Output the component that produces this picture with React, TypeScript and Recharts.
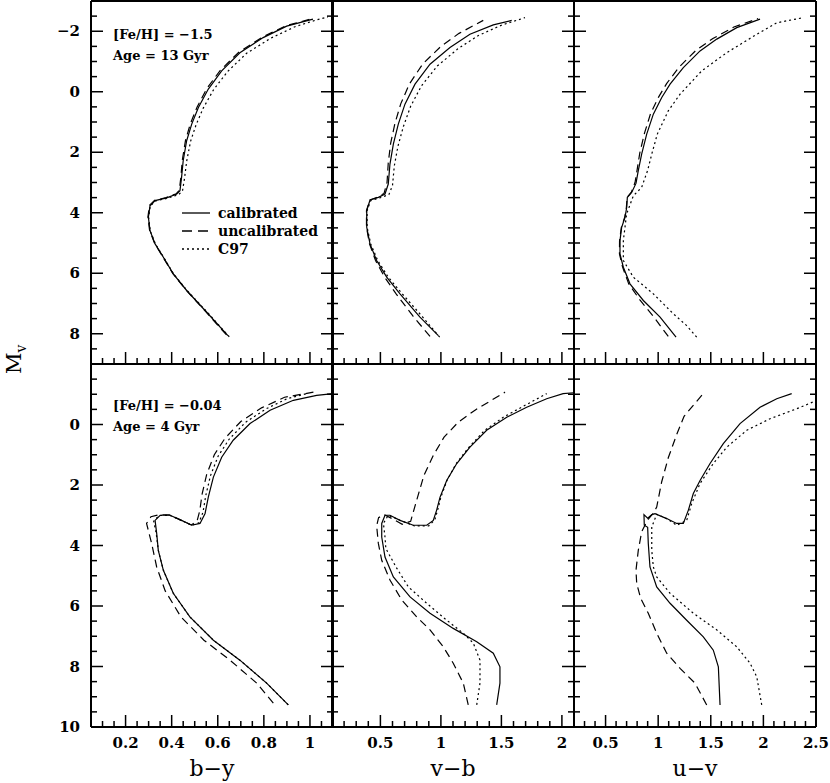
import React from "react";
import { LineChart, Line, XAxis, YAxis, Legend } from "recharts";

type Pt = [number, number]; // [colour index, Mv]

// ---- [Fe/H] = -1.5, Age = 13 Gyr ----
const topBY_cal: Pt[] = [
  [0.644, 8.06], [0.552, 7.29], [0.465, 6.57], [0.407, 6.02], [0.364, 5.47], [0.328, 5.03],
  [0.306, 4.59], [0.299, 4.15], [0.306, 3.77], [0.328, 3.6], [0.378, 3.51], [0.422, 3.38],
  [0.436, 3.27], [0.443, 2.83], [0.45, 2.28], [0.465, 1.62], [0.487, 1.07], [0.516, 0.52],
  [0.559, -0.09], [0.617, -0.69], [0.696, -1.29], [0.797, -1.79], [0.899, -2.17], [1.013, -2.4],
];
const topBY_unc: Pt[] = [
  [0.638, 8.04], [0.548, 7.27], [0.462, 6.55], [0.404, 6.0], [0.361, 5.45], [0.326, 5.01],
  [0.304, 4.57], [0.297, 4.13], [0.304, 3.75], [0.326, 3.59], [0.376, 3.5], [0.42, 3.37],
  [0.433, 3.26], [0.44, 2.82], [0.446, 2.27], [0.46, 1.61], [0.481, 1.06], [0.51, 0.51],
  [0.552, -0.1], [0.61, -0.7], [0.69, -1.3], [0.792, -1.8], [0.895, -2.18], [1.012, -2.42],
];
const topBY_c97: Pt[] = [
  [0.65, 8.1], [0.556, 7.3], [0.468, 6.58], [0.409, 6.03], [0.366, 5.48], [0.33, 5.04],
  [0.307, 4.6], [0.3, 4.16], [0.307, 3.78], [0.33, 3.61], [0.382, 3.52], [0.43, 3.4],
  [0.447, 3.28], [0.456, 2.85], [0.465, 2.3], [0.482, 1.64], [0.506, 1.09], [0.537, 0.54],
  [0.582, -0.07], [0.643, -0.67], [0.725, -1.27], [0.83, -1.77], [0.935, -2.15], [1.03, -2.38], [1.078, -2.47],
];

const topVB_cal: Pt[] = [
  [0.979, 8.06], [0.827, 7.45], [0.662, 6.68], [0.552, 6.13], [0.469, 5.58], [0.414, 5.03],
  [0.387, 4.48], [0.387, 3.93], [0.414, 3.58], [0.483, 3.49], [0.538, 3.38], [0.565, 3.05],
  [0.579, 2.39], [0.607, 1.73], [0.648, 1.07], [0.703, 0.41], [0.786, -0.25], [0.91, -0.91],
  [1.075, -1.46], [1.24, -1.9], [1.433, -2.21], [1.585, -2.36],
];
const topVB_unc: Pt[] = [
  [0.91, 8.09], [0.77, 7.42], [0.63, 6.68], [0.535, 6.13], [0.46, 5.58], [0.41, 5.03],
  [0.385, 4.48], [0.385, 3.93], [0.412, 3.58], [0.48, 3.48], [0.53, 3.36], [0.555, 3.0],
  [0.565, 2.35], [0.585, 1.7], [0.62, 1.05], [0.668, 0.4], [0.74, -0.26], [0.85, -0.92],
  [1.0, -1.5], [1.15, -1.93], [1.35, -2.36],
];
const topVB_c97: Pt[] = [
  [0.99, 8.11], [0.85, 7.45], [0.68, 6.68], [0.565, 6.13], [0.478, 5.58], [0.42, 5.03],
  [0.39, 4.48], [0.39, 3.93], [0.42, 3.6], [0.5, 3.5], [0.57, 3.4], [0.6, 3.1],
  [0.615, 2.45], [0.645, 1.8], [0.69, 1.15], [0.75, 0.48], [0.84, -0.2], [0.97, -0.85],
  [1.14, -1.42], [1.31, -1.86], [1.5, -2.2], [1.695, -2.45],
];

const topUV_cal: Pt[] = [
  [1.17, 8.11], [1.018, 7.45], [0.859, 6.9], [0.732, 6.35], [0.669, 5.8], [0.637, 5.36],
  [0.637, 4.92], [0.653, 4.48], [0.685, 4.15], [0.701, 3.82], [0.707, 3.49], [0.748, 3.33],
  [0.789, 3.03], [0.811, 2.61], [0.843, 2.06], [0.891, 1.4], [0.954, 0.74], [1.034, 0.19],
  [1.113, -0.25], [1.239, -0.8], [1.398, -1.35], [1.557, -1.74], [1.747, -2.12], [1.968, -2.4],
];
const topUV_unc: Pt[] = [
  [1.096, 8.09], [0.96, 7.45], [0.83, 6.9], [0.72, 6.35], [0.662, 5.8], [0.632, 5.36],
  [0.633, 4.92], [0.65, 4.48], [0.682, 4.15], [0.698, 3.82], [0.705, 3.49], [0.745, 3.32],
  [0.78, 3.0], [0.8, 2.58], [0.825, 2.03], [0.87, 1.37], [0.928, 0.72], [1.005, 0.17],
  [1.08, -0.27], [1.2, -0.82], [1.36, -1.37], [1.52, -1.76], [1.72, -2.14], [1.95, -2.42],
];
const topUV_c97: Pt[] = [
  [1.366, 8.11], [1.271, 7.73], [1.144, 7.34], [0.954, 6.68], [0.764, 6.13], [0.669, 5.58],
  [0.669, 4.92], [0.7, 4.04], [0.764, 3.44], [0.843, 3.16], [0.9, 2.6], [0.939, 2.06],
  [0.992, 1.4], [1.096, 0.63], [1.208, 0.08], [1.414, -0.69], [1.651, -1.29], [1.937, -1.9],
  [2.127, -2.28], [2.38, -2.45],
];

// ---- [Fe/H] = -0.04, Age = 4 Gyr ----
const botBY_cal: Pt[] = [
  [0.906, 9.27], [0.812, 8.55], [0.696, 7.79], [0.581, 7.13], [0.479, 6.36], [0.407, 5.58],
  [0.364, 4.82], [0.342, 4.16], [0.335, 3.6], [0.328, 3.17], [0.35, 3.0], [0.393, 3.0],
  [0.443, 3.17], [0.487, 3.33], [0.523, 3.27], [0.545, 2.94], [0.559, 2.4], [0.581, 1.74],
  [0.617, 1.08], [0.667, 0.52], [0.74, -0.03], [0.827, -0.47], [0.928, -0.8], [1.029, -0.96], [1.1, -1.02],
];
const botBY_unc: Pt[] = [
  [0.841, 9.21], [0.769, 8.55], [0.653, 7.79], [0.54, 7.13], [0.44, 6.36], [0.372, 5.5],
  [0.335, 4.71], [0.313, 3.93], [0.291, 3.27], [0.31, 3.05], [0.345, 2.98], [0.39, 2.99],
  [0.44, 3.16], [0.485, 3.32], [0.51, 3.2], [0.522, 2.85], [0.532, 2.3], [0.552, 1.65],
  [0.585, 1.0], [0.632, 0.45], [0.7, -0.1], [0.79, -0.55], [0.89, -0.9], [1.015, -1.07],
];
const botBY_c97: Pt[] = [
  [0.906, 9.27], [0.812, 8.55], [0.696, 7.79], [0.581, 7.13], [0.479, 6.36], [0.407, 5.58],
  [0.364, 4.82], [0.342, 4.16], [0.333, 3.6], [0.322, 3.2], [0.345, 3.01], [0.39, 3.0],
  [0.442, 3.17], [0.487, 3.33], [0.518, 3.25], [0.536, 2.9], [0.548, 2.35], [0.568, 1.7],
  [0.602, 1.04], [0.65, 0.48], [0.72, -0.07], [0.81, -0.52], [0.9, -0.85], [0.985, -1.02],
];

const botVB_cal: Pt[] = [
  [1.461, 9.27], [1.488, 8.55], [1.488, 8.01], [1.433, 7.56], [1.296, 7.18], [1.102, 6.74],
  [0.91, 6.24], [0.745, 5.7], [0.607, 5.04], [0.538, 4.38], [0.511, 3.72], [0.511, 3.27],
  [0.538, 3.0], [0.579, 3.0], [0.662, 3.17], [0.772, 3.33], [0.883, 3.33], [0.937, 3.17],
  [0.965, 2.83], [0.993, 2.4], [1.048, 1.85], [1.131, 1.29], [1.24, 0.75], [1.378, 0.19],
  [1.544, -0.24], [1.709, -0.57], [1.874, -0.85], [2.01, -1.02], [2.1, -1.05],
];
const botVB_unc: Pt[] = [
  [1.226, 9.27], [1.185, 8.55], [1.102, 7.89], [1.02, 7.35], [0.91, 6.79], [0.8, 6.36],
  [0.676, 5.8], [0.579, 5.14], [0.511, 4.49], [0.483, 3.93], [0.469, 3.35], [0.485, 3.08],
  [0.53, 2.98], [0.6, 3.12], [0.68, 3.3], [0.75, 3.2], [0.8, 2.5], [0.86, 1.68],
  [0.937, 1.02], [1.026, 0.42], [1.144, -0.08], [1.288, -0.49], [1.53, -1.07],
];
const botVB_c97: Pt[] = [
  [1.296, 9.27], [1.323, 8.55], [1.323, 7.79], [1.268, 7.23], [1.185, 6.9], [1.048, 6.47],
  [0.883, 5.91], [0.731, 5.37], [0.629, 4.71], [0.545, 4.1], [0.538, 3.72], [0.525, 3.27],
  [0.565, 3.0], [0.67, 3.18], [0.78, 3.35], [0.9, 3.35], [0.95, 3.15], [0.975, 2.8],
  [1.0, 2.4], [1.05, 1.85], [1.125, 1.3], [1.225, 0.78], [1.36, 0.2], [1.52, -0.25],
  [1.68, -0.6], [1.874, -1.02],
];

const botUV_cal: Pt[] = [
  [1.588, 9.27], [1.572, 8.01], [1.524, 7.46], [1.429, 7.02], [1.271, 6.47], [1.113, 5.91],
  [0.986, 5.37], [0.922, 4.71], [0.906, 3.93], [0.9, 3.4], [0.868, 3.33], [0.865, 2.98],
  [0.9, 3.1], [0.94, 2.98], [0.97, 2.95], [1.081, 3.11], [1.176, 3.27], [1.239, 3.27],
  [1.287, 2.83], [1.334, 2.28], [1.398, 1.85], [1.493, 1.29], [1.619, 0.63], [1.778, -0.03],
  [1.968, -0.57], [2.127, -0.85], [2.269, -1.02],
];
const botUV_unc: Pt[] = [
  [1.461, 9.27], [1.35, 8.55], [1.208, 8.06], [1.081, 7.56], [0.986, 6.9], [0.906, 6.24],
  [0.834, 5.75], [0.796, 5.26], [0.789, 4.82], [0.811, 4.16], [0.843, 3.55], [0.9, 3.15],
  [0.95, 2.95], [0.986, 2.73], [1.033, 1.9], [1.096, 1.1], [1.176, 0.33], [1.246, -0.27],
  [1.398, -0.9], [1.429, -1.02],
];
const botUV_c97: Pt[] = [
  [1.984, 9.27], [1.937, 8.34], [1.873, 7.89], [1.747, 7.35], [1.557, 6.79], [1.334, 6.24],
  [1.113, 5.58], [0.986, 5.04], [0.954, 4.71], [0.939, 4.16], [0.939, 3.39], [0.986, 2.97],
  [1.081, 3.11], [1.176, 3.33], [1.271, 3.17], [1.319, 2.61], [1.398, 1.95], [1.524, 1.29],
  [1.652, 0.75], [1.842, 0.19], [2.063, -0.19], [2.317, -0.52], [2.51, -0.8],
];

const CURVES: Pt[][][][] = [
  [[topBY_cal, topBY_unc, topBY_c97], [topVB_cal, topVB_unc, topVB_c97], [topUV_cal, topUV_unc, topUV_c97]],
  [[botBY_cal, botBY_unc, botBY_c97], [botVB_cal, botVB_unc, botVB_c97], [botUV_cal, botUV_unc, botUV_c97]],
];

const SERIES = [
  { name: "calibrated", dash: undefined as string | undefined },
  { name: "uncalibrated", dash: "8 5" },
  { name: "C97", dash: "2 3" },
];

const BY_MAJOR = [0.2, 0.4, 0.6, 0.8, 1];
const VB_MAJOR = [0.5, 1, 1.5, 2];
const UV_MAJOR = [0.5, 1, 1.5, 2, 2.5];
const MV_TOP_MAJOR = [-2, 0, 2, 4, 6, 8];
const MV_BOT_MAJOR = [0, 2, 4, 6, 8, 10];

const COLS = [
  { title: "b\u2212y", domain: [0.05, 1.1], majors: BY_MAJOR, step: 0.05 },
  { title: "v\u2212b", domain: [0.1, 2.1], majors: VB_MAJOR, step: 0.1 },
  { title: "u\u2212v", domain: [0.2, 2.5], majors: UV_MAJOR, step: 0.1 },
];
const ROWS = [
  { domain: [-3, 9], majors: MV_TOP_MAJOR, note: ["[Fe/H] = \u22121.5", "Age = 13 Gyr"] },
  { domain: [-2, 10], majors: MV_BOT_MAJOR, note: ["[Fe/H] = \u22120.04", "Age = 4 Gyr"] },
];

const COL_X = [91, 332, 574];
const ROW_Y = [1, 364];
const PW = 242;
const PH = 363;
const M = 45;
const AX = 1; // axis box thickness (recharts skips zero-size axes)
const FONT = "'DejaVu Serif', serif";

const range = (a: number, b: number, step: number) => {
  const out: number[] = [];
  for (let v = a; v <= b + 1e-9; v += step) out.push(Math.round(v * 1000) / 1000);
  return out;
};
const fmt = (v: number) => (v < 0 ? "\u2212" + Math.abs(v) : String(v));

function makeTick(side: string, majors: number[], labelled: boolean) {
  return function Tick(props: any) {
    const { x, y, payload } = props;
    const v = payload.value;
    const major = majors.some((m) => Math.abs(m - v) < 1e-6);
    const len = major ? 12 : 6;
    let x2 = x;
    let y2 = y;
    if (side === "bottom") y2 = y - len;
    if (side === "top") y2 = y + len;
    if (side === "left") x2 = x + len;
    if (side === "right") x2 = x - len;
    return (
      <g>
        <line x1={x} y1={y} x2={x2} y2={y2} stroke="#000" strokeWidth={1.5} />
        {labelled && major && side === "bottom" && (
          <text x={x} y={y + 21} textAnchor="middle" fontFamily={FONT} fontWeight="bold" fontSize={15} fill="#000">
            {fmt(v)}
          </text>
        )}
        {labelled && major && side === "left" && (
          <text x={x - 11} y={y + 5} textAnchor="end" fontFamily={FONT} fontWeight="bold" fontSize={15} fill="#000">
            {fmt(v)}
          </text>
        )}
      </g>
    );
  };
}

const AXIS = { stroke: "#000", strokeWidth: 2 };

function LegendBox() {
  return (
    <div style={{ fontFamily: FONT, fontWeight: "bold", fontSize: 14 }}>
      {SERIES.map((s) => (
        <div key={s.name} style={{ display: "flex", alignItems: "center", height: 18 }}>
          <svg width={36} height={18}>
            <line x1={0} y1={9} x2={28} y2={9} stroke="#000" strokeWidth={1.3} strokeDasharray={s.dash === "8 5" ? "10 6" : s.dash} />
          </svg>
          <span>{s.name}</span>
        </div>
      ))}
    </div>
  );
}

function Panel({ row, col }: { row: number; col: number }) {
  const c = COLS[col];
  const r = ROWS[row];
  const xt = range(c.domain[0], c.domain[1], c.step);
  const yt = range(r.domain[0], r.domain[1], 0.5);
  const common = { type: "number" as const, allowDataOverflow: true, interval: 0 as const, tickSize: 0, tickMargin: 0, tickLine: false, axisLine: AXIS };
  const mg = M - AX;
  return (
    <div style={{ position: "absolute", left: COL_X[col] - M, top: ROW_Y[row] - M }}>
      <LineChart width={PW + 2 * M} height={PH + 2 * M} margin={{ top: mg, right: mg, bottom: mg, left: mg }}>
        <XAxis xAxisId="b" orientation="bottom" dataKey="c" domain={c.domain} ticks={xt} height={AX} {...common} tick={makeTick("bottom", c.majors, row === 1)} />
        <XAxis xAxisId="t" orientation="top" domain={c.domain} ticks={xt} height={AX} {...common} tick={makeTick("top", c.majors, false)} />
        <YAxis yAxisId="l" orientation="left" dataKey="mv" reversed domain={r.domain} ticks={yt} width={AX} {...common} tick={makeTick("left", r.majors, col === 0)} />
        <YAxis yAxisId="r" orientation="right" reversed domain={r.domain} ticks={yt} width={AX} {...common} tick={makeTick("right", r.majors, false)} />
        {SERIES.map((s, i) => (
          <Line
            key={s.name}
            xAxisId="b"
            yAxisId="l"
            name={s.name}
            data={CURVES[row][col][i].map(([cv, mv]) => ({ c: cv, mv }))}
            dataKey="mv"
            type="linear"
            stroke="#000"
            strokeWidth={1.2}
            strokeDasharray={s.dash}
            dot={false}
            activeDot={false}
            isAnimationActive={false}
          />
        ))}
        {row === 0 && col === 0 && (
          <Legend layout="vertical" align="center" verticalAlign="middle" content={() => <LegendBox />} wrapperStyle={{ left: 136, top: 248, width: 160 }} />
        )}
      </LineChart>
    </div>
  );
}

export default function App() {
  return (
    <div style={{ position: "absolute", left: 0, top: 0, width: 830, height: 783, background: "#fff", overflow: "hidden" }}>
      {ROWS.map((_, row) => COLS.map((__, col) => <Panel key={`${row}-${col}`} row={row} col={col} />))}
      <svg width={830} height={783} style={{ position: "absolute", left: 0, top: 0, pointerEvents: "none" }}>
        <text transform="translate(21, 374) rotate(-90)" fontFamily={FONT} fontSize={21} fill="#000">
          M<tspan fontSize={14} dy={5}>v</tspan>
        </text>
        {COLS.map((c, col) => (
          <text key={c.title} x={COL_X[col] + PW / 2} y={776} textAnchor="middle" fontFamily={FONT} fontSize={22} fill="#000">
            {c.title}
          </text>
        ))}
        {ROWS.map((r, row) =>
          r.note.map((t, k) => (
            <text key={t} x={113} y={(row === 0 ? 39 : 410) + k * 21} fontFamily={FONT} fontWeight="bold" fontSize={13} fill="#000">
              {t}
            </text>
          ))
        )}
      </svg>
    </div>
  );
}
